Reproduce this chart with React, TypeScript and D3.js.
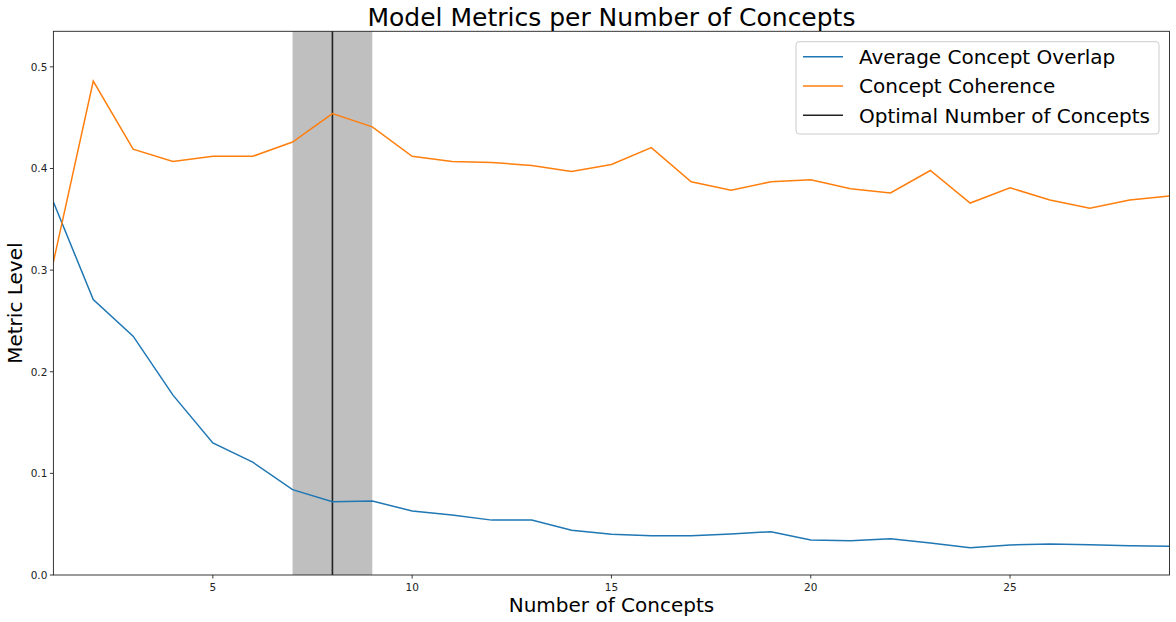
import React from "react";
import * as d3 from "d3";

const concepts = [1,2,3,4,5,6,7,8,9,10,11,12,13,14,15,16,17,18,19,20,21,22,23,24,25,26,27,28,29];
const overlap = [0.367,0.271,0.235,0.177,0.130,0.111,0.084,0.072,0.0728,0.063,0.059,0.054,0.054,0.044,0.040,0.0387,0.0386,0.0403,0.0426,0.0344,0.0338,0.0357,0.0315,0.0269,0.0295,0.0305,0.0298,0.0288,0.0282];
const coherence = [0.308,0.486,0.419,0.407,0.412,0.412,0.426,0.454,0.441,0.412,0.407,0.406,0.403,0.397,0.404,0.4205,0.387,0.3786,0.387,0.389,0.380,0.376,0.398,0.366,0.381,0.369,0.361,0.369,0.373];
const xTicks = [5,10,15,20,25];
const yTicks = [0,0.1,0.2,0.3,0.4,0.5];
const optimal = 8;
const bandRange = [7, 9];
const legendItems = [
  { label: "Average Concept Overlap", color: "#1f77b4" },
  { label: "Concept Coherence", color: "#ff7f0e" },
  { label: "Optimal Number of Concepts", color: "#222222" },
];

const W = 1176, H = 622;
const M = { left: 53.4, right: 1169.5, top: 31.3, bottom: 575 };
const FONT = "'DejaVu Sans', sans-serif";

export default function App() {
  const x = d3.scaleLinear().domain([1, 29]).range([M.left, M.right]);
  const y = d3.scaleLinear().domain([0, 0.535]).range([M.bottom, M.top]);
  const line = d3.line<number>().x((_, i) => x(concepts[i])).y((d) => y(d));

  return (
    <svg width={W} height={H} style={{ position: "absolute", left: 0, top: 0, background: "#fff" }} fontFamily={FONT}>
      <defs>
        <clipPath id="plot">
          <rect x={M.left} y={M.top} width={M.right - M.left} height={M.bottom - M.top} />
        </clipPath>
      </defs>
      <rect x={x(bandRange[0])} y={M.top} width={x(bandRange[1]) - x(bandRange[0])} height={M.bottom - M.top} fill="#bfbfbf" />
      <line x1={x(optimal)} x2={x(optimal)} y1={M.top} y2={M.bottom} stroke="#222" strokeWidth={1.6} />
      <g clipPath="url(#plot)">
        <path d={line(overlap) || ""} fill="none" stroke="#1f77b4" strokeWidth={1.5} />
        <path d={line(coherence) || ""} fill="none" stroke="#ff7f0e" strokeWidth={1.5} />
      </g>
      <rect x={M.left} y={M.top} width={M.right - M.left} height={M.bottom - M.top} fill="none" stroke="#222" strokeWidth={0.9} />
      {xTicks.map((t) => (
        <g key={t}>
          <line x1={x(t)} x2={x(t)} y1={M.bottom} y2={M.bottom + 3.5} stroke="#222" strokeWidth={0.9} />
          <text x={x(t)} y={M.bottom + 16} textAnchor="middle" fontSize={10.5} fill="#222">{t}</text>
        </g>
      ))}
      {yTicks.map((t) => (
        <g key={t}>
          <line x1={M.left - 3.5} x2={M.left} y1={y(t)} y2={y(t)} stroke="#222" strokeWidth={0.9} />
          <text x={M.left - 6} y={y(t) + 3.8} textAnchor="end" fontSize={10.5} fill="#222">{t.toFixed(1)}</text>
        </g>
      ))}
      <text x={(M.left + M.right) / 2} y={26} textAnchor="middle" fontSize={25} fill="#000">Model Metrics per Number of Concepts</text>
      <text x={(M.left + M.right) / 2} y={611.5} textAnchor="middle" fontSize={20} fill="#000">Number of Concepts</text>
      <text transform={`translate(21.5, ${(M.top + M.bottom) / 2}) rotate(-90)`} textAnchor="middle" fontSize={20} fill="#000">Metric Level</text>
      <g>
        <rect x={796} y={41.7} width={363} height={92.3} rx={3} fill="#fff" fillOpacity={0.8} stroke="#ccc" strokeWidth={1} />
        {legendItems.map((it, i) => (
          <g key={it.label}>
            <line x1={803} x2={843} y1={56.8 + i * 29.2} y2={56.8 + i * 29.2} stroke={it.color} strokeWidth={1.5} />
            <text x={859} y={56.8 + i * 29.2 + 7.3} fontSize={20} fill="#000">{it.label}</text>
          </g>
        ))}
      </g>
    </svg>
  );
}
